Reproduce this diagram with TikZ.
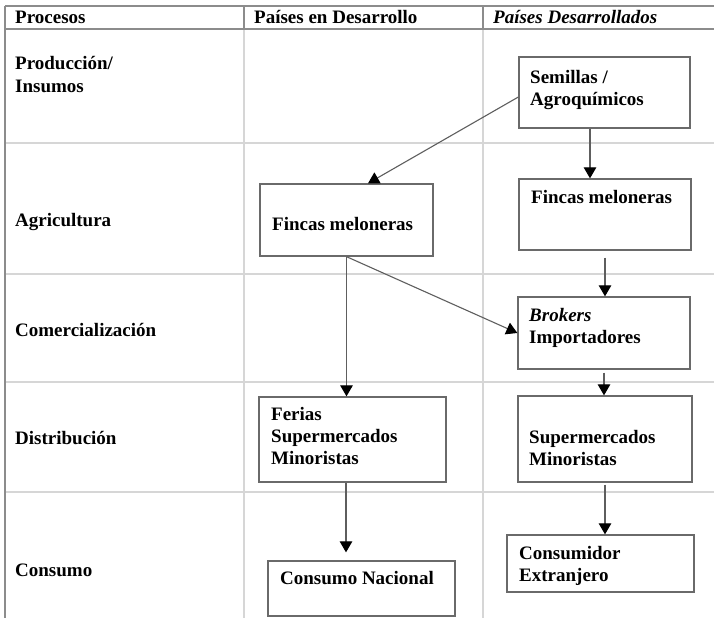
\documentclass[tikz,border=0pt]{standalone}
\usepackage{fontspec}
\setmainfont{Liberation Serif}
\usetikzlibrary{arrows.meta,calc}
\definecolor{gridc}{HTML}{D6D6D6}
\definecolor{rulec}{HTML}{8C8C8C}
\definecolor{boxc}{HTML}{6A6A6A}
\definecolor{linkc}{HTML}{5E5E5E}
% stacked lines inside a cell; the node baseline is the first line
\newcommand{\twolines}[2]{\vtop{\hbox{#1}\hbox{#2}}}
\newcommand{\threelines}[3]{\vtop{\hbox{#1}\hbox{#2}\hbox{#3}}}

\begin{document}
\begin{tikzpicture}[x=1pt,y=-1pt,
  txt/.style={anchor=base west, inner sep=0pt, font=\fontsize{19}{22}\selectfont\bfseries},
  box/.style={draw=boxc, fill=white, line width=1.3pt, inner sep=0pt},
  arr/.style={draw=linkc, line width=1.1pt, -{Triangle[length=11pt,width=12.5pt,fill=black,color=black]}},
  gridline/.style={draw=gridc, line width=1.4pt},
  ruleline/.style={draw=rulec, line width=1.6pt}]

\useasboundingbox (0,0) rectangle (714,618);
\fill[white] (0,0) rectangle (714,618);

% table grid
\foreach \y in {143,274,382,492} \draw[gridline] (5,\y) -- (714,\y);
\draw[gridline] (244,29) -- (244,618);
\draw[gridline] (483,29) -- (483,618);
\draw[ruleline] (5,6) -- (714,6);
\draw[ruleline] (5,29) -- (714,29);
\draw[ruleline] (5,6) -- (5,618);
\draw[ruleline] (244,6) -- (244,29);
\draw[ruleline] (483,6) -- (483,29);

% header row
\node[txt] (hProc) at (15,24) {Procesos};
\node[txt] (hDev)  at (254,24) {Países en Desarrollo};
\node[txt] (hDevd) at (493,24) {\itshape Países Desarrollados};

% process labels
\node[txt] (rProd) at (15,70)  {\twolines{Producción/}{Insumos}};
\node[txt] (rAgri) at (15,226) {Agricultura};
\node[txt] (rCom)  at (15,336) {Comercialización};
\node[txt] (rDist) at (15,444) {Distribución};
\node[txt] (rCons) at (15,576) {Consumo};

% boxes
\node[box, minimum width=171pt, minimum height=71pt] (semillas)   at (604.5,92.5) {};
\node[box, minimum width=173pt, minimum height=72pt] (fincasL)    at (346.5,220)  {};
\node[box, minimum width=172pt, minimum height=71pt] (fincasR)    at (605,214.5)  {};
\node[box, minimum width=172pt, minimum height=72pt] (brokers)    at (604,333)    {};
\node[box, minimum width=187pt, minimum height=85pt] (ferias)     at (352.5,439.5){};
\node[box, minimum width=174pt, minimum height=86pt] (supR)       at (605,439)    {};
\node[box, minimum width=187pt, minimum height=55pt] (consumoN)   at (361.5,588.5){};
\node[box, minimum width=187pt, minimum height=57pt] (consumidor) at (600.5,563.5){};

% box texts
\node[txt] (semillasT)   at (530,83)  {\twolines{Semillas /}{Agroquímicos}};
\node[txt] (fincasLT)    at (272,230) {Fincas meloneras};
\node[txt] (fincasRT)    at (531,203) {Fincas meloneras};
\node[txt] (brokersT)    at (529,321) {\twolines{\itshape Brokers}{Importadores}};
\node[txt] (feriasT)     at (271,420) {\threelines{Ferias}{Supermercados}{Minoristas}};
\node[txt] (supRT)       at (529,443) {\twolines{Supermercados}{Minoristas}};
\node[txt] (consumoNT)   at (280,584) {Consumo Nacional};
\node[txt] (consumidorT) at (519,559) {\twolines{Consumidor}{Extranjero}};

% flows
\draw[arr] ([yshift=-4.5pt]semillas.west) -- ([xshift=21.5pt]fincasL.north);
\draw[arr] ([xshift=-14.5pt]semillas.south) -- ([xshift=-14.5pt]semillas.south |- fincasR.north);
\draw[arr] ([yshift=-7pt]fincasR.south) -- (fincasR.south |- brokers.north);
\draw[arr] ([yshift=-3pt]brokers.south) -- (brokers.south |- supR.north);
\draw[arr] (fincasL.south) -- (brokers.west);
\draw[arr] (fincasL.south) -- (fincasL.south |- ferias.north);
\draw[arr] ($(ferias.south)+(-6.5,0)$) -- ($(consumoN.north)+(-15.5,-8)$);
\draw[arr] ([yshift=-2pt]supR.south) -- (supR.south |- consumidor.north);
\end{tikzpicture}
\end{document}
